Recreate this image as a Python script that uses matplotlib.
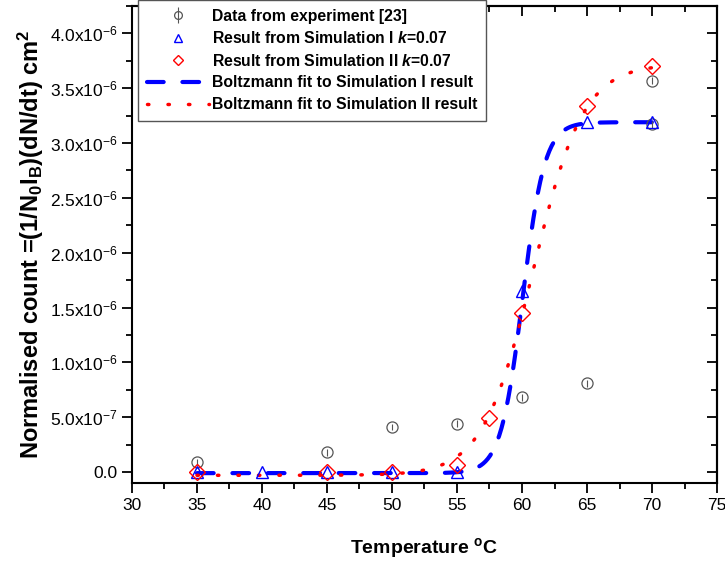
import matplotlib
matplotlib.use("Agg")
import matplotlib.pyplot as plt
from matplotlib.ticker import MultipleLocator, FixedLocator
import numpy as np

plt.rcParams['font.family'] = ['Liberation Sans', 'DejaVu Sans']
plt.rcParams['mathtext.fontset'] = 'custom'
plt.rcParams['mathtext.rm'] = 'Liberation Sans'
plt.rcParams['mathtext.bf'] = 'Liberation Sans:bold'
plt.rcParams['mathtext.it'] = 'Liberation Sans:bold:italic'
plt.rcParams['mathtext.default'] = 'regular'

# 实验数据
exp_temp = [35, 45, 50, 55, 60, 65, 70, 70]
exp_count = [0.09e-6, 0.18e-6, 0.41e-6, 0.44e-6, 0.68e-6, 0.81e-6, 3.57e-6, 3.17e-6]
exp_err = [0.03e-6] * len(exp_temp)

# 模拟 I
sim1_temp = [35, 40, 45, 50, 55, 60, 65, 70]
sim1_count = [0.0, 0.0, 0.0, 0.0, 0.0, 1.65e-6, 3.19e-6, 3.19e-6]

# 模拟 II
sim2_temp = [35, 45, 50, 55, 57.5, 60, 65, 70]
sim2_count = [0.0, 0.0, 0.0, 0.06e-6, 0.49e-6, 1.45e-6, 3.34e-6, 3.70e-6]

# Boltzmann 拟合参数 (A1, A2, x0, dx)
fit1_params = (-0.01e-6, 3.19e-6, 60.05, 0.85)
fit2_params = (-0.03e-6, 3.72e-6, 60.87, 1.93)
fit_range = (35, 70)

ytick_vals = [0, 0.5e-6, 1.0e-6, 1.5e-6, 2.0e-6, 2.5e-6, 3.0e-6, 3.5e-6, 4.0e-6]
ytick_labels = ['0.0', '5.0x10$^{-7}$', '1.0x10$^{-6}$', '1.5x10$^{-6}$', '2.0x10$^{-6}$',
                '2.5x10$^{-6}$', '3.0x10$^{-6}$', '3.5x10$^{-6}$', '4.0x10$^{-6}$']


def boltzmann(x, a1, a2, x0, dx):
    return a2 + (a1 - a2) / (1 + np.exp((x - x0) / dx))


fig = plt.figure(figsize=(7.25, 5.68), dpi=100)
ax = fig.add_axes([132 / 725, 1 - 483 / 568, (717 - 132) / 725, (483 - 6) / 568])

xs = np.linspace(fit_range[0], fit_range[1], 400)

h_exp = ax.errorbar(exp_temp, exp_count, yerr=exp_err, fmt='o', mfc='none', mec='#555555',
                    ecolor='#555555', elinewidth=0.8, capsize=0, ms=8, mew=0.9, zorder=3)
h_s1, = ax.plot(sim1_temp, sim1_count, '^', mfc='none', mec='#0000ff', ms=9, mew=1.0, zorder=4)
h_s2, = ax.plot(sim2_temp, sim2_count, 'D', mfc='none', mec='#ff0000', ms=8, mew=1.0, zorder=5)
h_f1, = ax.plot(xs, boltzmann(xs, *fit1_params), color='#0000ff', lw=3, dashes=(4, 4.5),
                dash_capstyle='round', zorder=2)
h_f2, = ax.plot(xs, boltzmann(xs, *fit2_params), color='#ff0000', lw=2.5, dashes=(0.4, 5.5),
                dash_capstyle='round', zorder=2)

ax.set_xlim(30, 75)
ax.set_ylim(-1e-7, 4.25e-6)
ax.xaxis.set_major_locator(MultipleLocator(5))
ax.xaxis.set_minor_locator(MultipleLocator(2.5))
ax.yaxis.set_major_locator(FixedLocator(ytick_vals))
ax.set_yticklabels(ytick_labels)
ax.yaxis.set_minor_locator(MultipleLocator(0.25e-6))
ax.tick_params(which='both', direction='out', width=1.3, labelsize=12.5, colors='black')
ax.tick_params(which='major', length=7)
ax.tick_params(which='minor', length=4)
for s in ax.spines.values():
    s.set_linewidth(1.5)

# 上/右侧轴刻度朝内
top = ax.secondary_xaxis('top')
top.xaxis.set_major_locator(MultipleLocator(5))
top.xaxis.set_minor_locator(MultipleLocator(2.5))
top.tick_params(which='both', direction='in', labeltop=False, width=1.3)
top.tick_params(which='major', length=7)
top.tick_params(which='minor', length=4)
right = ax.secondary_yaxis('right')
right.yaxis.set_major_locator(FixedLocator(ytick_vals))
right.yaxis.set_minor_locator(MultipleLocator(0.25e-6))
right.tick_params(which='both', direction='in', labelright=False, width=1.3)
right.tick_params(which='major', length=7)
right.tick_params(which='minor', length=4)
top.spines['top'].set_linewidth(1.5)
right.spines['right'].set_linewidth(1.5)

ax.set_xlabel(r'Temperature $^{o}$C', fontsize=14, fontweight='bold', labelpad=17)
ax.set_ylabel(r'Normalised count =(1/N$_\mathbf{0}$I$_\mathbf{B}$)(dN/dt) cm$^\mathbf{2}$',
              fontsize=17, fontweight='bold', labelpad=3)

handles = [h_exp, h_s1, h_s2, h_f1, h_f2]
labels = ['Data from experiment [23]',
          'Result from Simulation I $\\mathit{k}$=0.07',
          'Result from Simulation II $\\mathit{k}$=0.07',
          'Boltzmann fit to Simulation I result',
          'Boltzmann fit to Simulation II result']
leg = ax.legend(handles, labels, loc='upper left', bbox_to_anchor=(138 / 725, 1.0),
                bbox_transform=fig.transFigure, borderaxespad=0,
                prop={'weight': 'bold', 'size': 11.3}, frameon=True, fancybox=False,
                edgecolor='#555555', framealpha=1, handlelength=4.0, handletextpad=0.15,
                labelspacing=0.42, borderpad=0.55, markerscale=0.7)
leg.get_frame().set_linewidth(1.0)

plt.savefig('out.png', dpi=100)
plt.close()
